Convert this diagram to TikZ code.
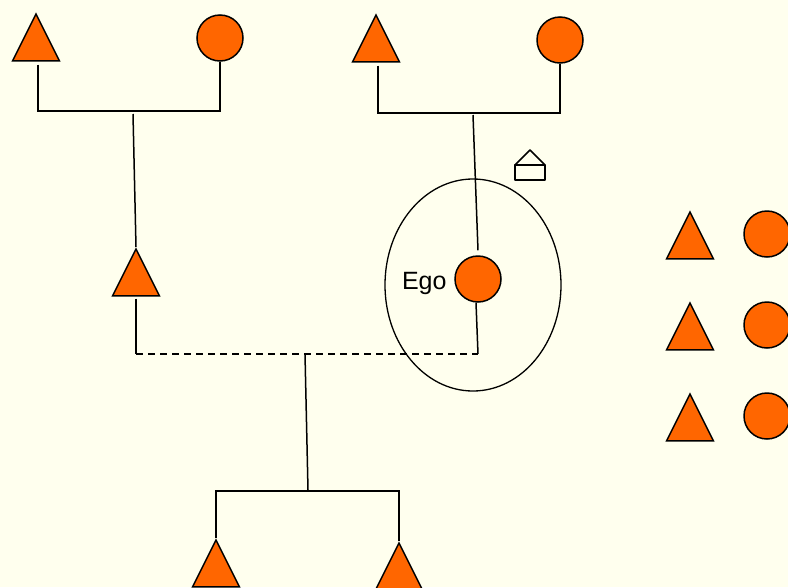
\documentclass[tikz,border=0pt]{standalone}
\usepackage{fontspec}
\setsansfont{Liberation Sans}
\usetikzlibrary{shapes.geometric,positioning}
\definecolor{paper}{HTML}{FFFFEE}
\definecolor{kin}{HTML}{FF6600}

\begin{document}
\begin{tikzpicture}[x=1pt,y=-1pt,line width=1.5pt,
	male/.style={draw,fill=kin,isosceles triangle,isosceles triangle stretches,shape border rotate=90,minimum width=47pt,minimum height=47pt,inner sep=0pt,anchor=apex},
	female/.style={draw,fill=kin,circle,minimum size=46pt,inner sep=0pt}]
	\fill[paper] (0,0) rectangle (788,587);
	\useasboundingbox (0,0) rectangle (788,587);
	\clip (0,0) rectangle (788,587);

	% grandparents
	\node[male] (fa1) at (36,12) {};
	\node[female] (mo1) at (220,38) {};
	\node[male] (fa2) at (376,13) {};
	\node[female] (mo2) at (560,40) {};
	\coordinate (bar1l) at (38,111);
	\coordinate (bar1r) at (220,111);
	\coordinate (bar1c) at (133,114);
	\coordinate (bar2l) at (378,113);
	\coordinate (bar2r) at (560,113);
	\coordinate (bar2c) at (473,115);
	\draw ([yshift=-3pt]fa1.south -| bar1l) -- (bar1l) -- (bar1r) -- (mo1.south);
	\draw ([yshift=-3pt]fa2.south -| bar2l) -- (bar2l) -- (bar2r) -- (mo2.south);

	% parents
	\node[male] (dad) at (136,247) {};
	\node[female] (ego) at (478,279) {};
	\node[left=7pt of ego,yshift=-4pt,font=\sffamily\fontsize{25}{28}\selectfont,inner sep=0pt] (egolbl) {Ego};
	\node[draw,line width=1.3pt,ellipse,minimum width=176pt,minimum height=212pt,inner sep=0pt] (egoring) at (473,285) {};
	\draw (bar1c) -- (dad.apex);
	\draw (bar2c) -- ([yshift=5pt]ego.north);

	\coordinate (wed1) at (136,354);
	\coordinate (wed2) at (478,354);
	\coordinate (wedc) at (305,354);
	\draw ([yshift=-2pt]dad.south) -- (wed1);
	\draw ([xshift=-2pt]ego.south) -- (wed2);
	\draw[dash pattern=on 7pt off 5pt] (wed1) -- (wed2);

	% children
	\node[male] (son1) at (216,538) {};
	\node[male] (son2) at (399,541) {};
	\coordinate (bar3l) at (216,491);
	\coordinate (bar3r) at (399,491);
	\coordinate (bar3c) at (308,490);
	\draw (wedc) -- (bar3c);
	\draw (son1.apex) -- (bar3l) -- (bar3r) -- (son2.apex);

	% house
	\draw[line join=round] (515,165) rectangle (545,180);
	\draw[line join=round] (515,165) -- (530,150) -- (545,165);

	% key
	\foreach \r in {234,325,416} {
		\node[male] (keym\r) at (690,\r-24) {};
		\node[female] (keyf\r) at (767,\r) {};
	}
\end{tikzpicture}
\end{document}
